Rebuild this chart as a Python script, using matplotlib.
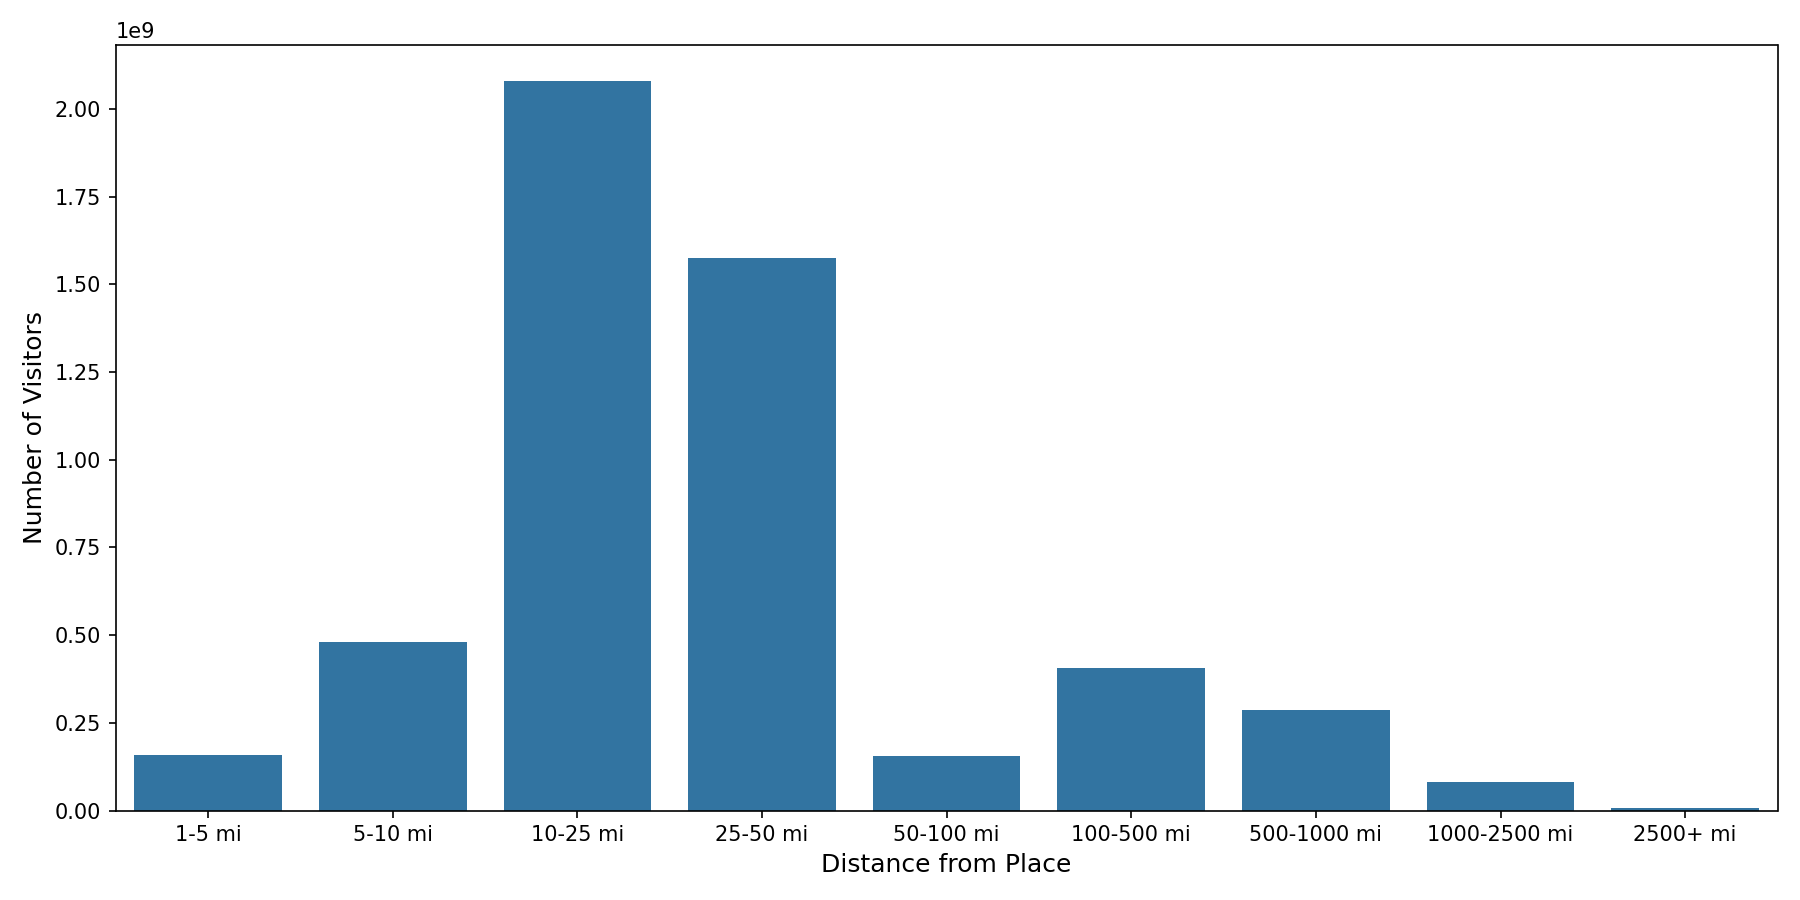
import numpy as np
import matplotlib.pyplot as plt

CATEGORIES = ["1-5 mi", "5-10 mi", "10-25 mi", "25-50 mi", "50-100 mi",
              "100-500 mi", "500-1000 mi", "1000-2500 mi", "2500+ mi"]
VISITORS = [0.158e9, 0.481e9, 2.079e9, 1.575e9, 0.155e9,
            0.405e9, 0.287e9, 0.082e9, 0.007e9]

fig, ax = plt.subplots(figsize=(12, 6), dpi=150)
x = np.arange(len(CATEGORIES))
ax.bar(x, VISITORS, width=0.8, color="#3274a1")
ax.set_xticks(x)
ax.set_xticklabels(CATEGORIES)
ax.set_xlim(-0.5, len(CATEGORIES) - 0.5)
ax.set_xlabel("Distance from Place", fontsize=12)
ax.set_ylabel("Number of Visitors", fontsize=12)
fig.tight_layout()
fig.savefig("out.png")
